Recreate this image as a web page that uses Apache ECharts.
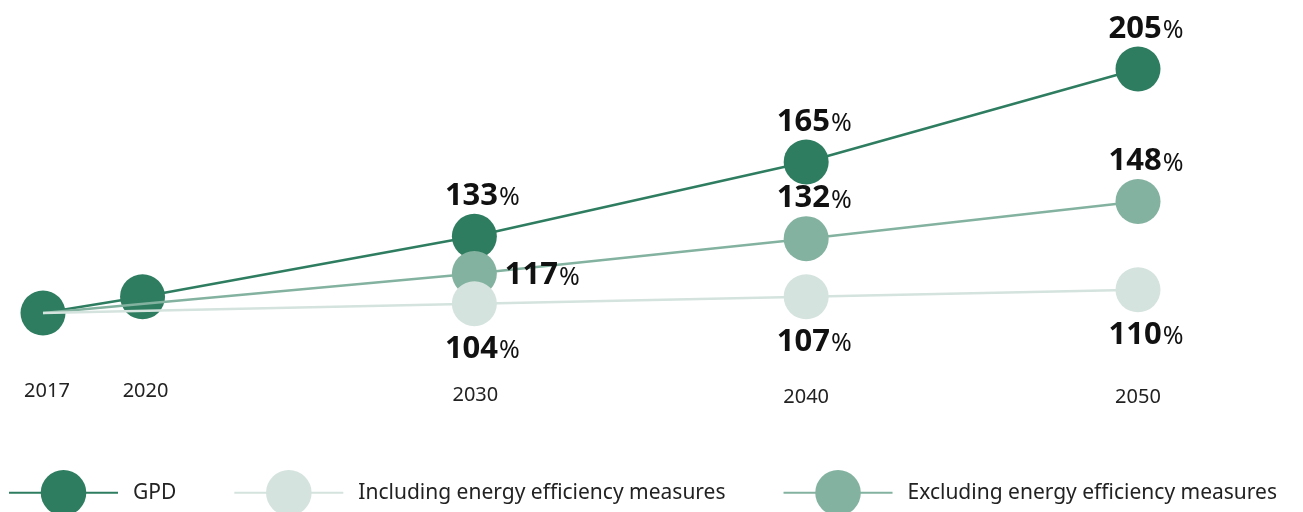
<!DOCTYPE html>
<html>
<head>
<meta charset="utf-8">
<script src="https://cdn.jsdelivr.net/npm/echarts@6/dist/echarts.min.js"></script>
<style>html,body{margin:0;padding:0;background:#fff;}#c{width:1303px;height:512px;}</style>
</head>
<body>
<div id="c"></div>
<script>
const years = [2017, 2020, 2030, 2040, 2050];
const yearLabels = ['2017', '2020', '2030', '2040', '2050'];
const seriesNames = ['GPD', 'Including energy efficiency measures', 'Excluding energy efficiency measures'];
const gdp = [100, 107, 133, 165, 205];
const including = [100, null, 104, 107, 110];
const excluding = [100, null, 117, 132, 148];

const colors = { gdp: '#2E7D61', inc: '#D4E3DD', exc: '#83B2A0' };
const FONT = '"Noto Sans", sans-serif';

function labelFormatter(p) {
  return '{n|' + p.value[1] + '}{p|%}';
}
const labelRich = {
  n: { fontSize: 31, fontWeight: 'bold', color: '#111', fontFamily: FONT },
  p: { fontSize: 25, color: '#111', fontFamily: FONT, padding: [4, 0, 0, 1] }
};

function labelCfg(pos) {
  if (pos === 'top') return { show: true, position: 'top', distance: 2, offset: [8, 0] };
  if (pos === 'bottom') return { show: true, position: 'bottom', distance: 7, offset: [8, 0] };
  return { show: true, position: 'right', distance: 8, offset: [0, 2] };
}

function buildData(vals, posFn, hideFirst) {
  const out = [];
  years.forEach((y, i) => {
    if (vals[i] == null) return;
    const item = { value: [y, vals[i]] };
    item.label = y >= 2030 ? labelCfg(posFn(y)) : { show: false };
    if (hideFirst && i === 0) item.symbol = 'none';
    out.push(item);
  });
  return out;
}

const yearPad = [0, 0, 4, 6, 6];
const yearStyle = (i, left) => ({ fontSize: 20, color: '#222', fontFamily: FONT, padding: [yearPad[i], 0, 0, left] });

const chart = echarts.init(document.getElementById('c'));
chart.setOption({
  animation: false,
  backgroundColor: '#fff',
  grid: { left: 43, right: 165, top: 69, bottom: 199, containLabel: false },
  xAxis: {
    type: 'value', min: 2017, max: 2050,
    axisLine: { show: false }, axisTick: { show: false }, splitLine: { show: false },
    axisLabel: {
      customValues: years,
      margin: 68,
      formatter: function (v) {
        const i = years.indexOf(v);
        return '{y' + i + '|' + yearLabels[i] + '}';
      },
      rich: {
        y0: yearStyle(0, 8),
        y1: yearStyle(1, 6),
        y2: yearStyle(2, 2),
        y3: yearStyle(3, 0),
        y4: yearStyle(4, 0)
      }
    }
  },
  yAxis: { type: 'value', min: 100, max: 205, show: false },
  legend: {
    data: [seriesNames[0], seriesNames[1], seriesNames[2]],
    left: 8, top: 464, padding: [6, 0, 0, 0],
    itemWidth: 109, itemHeight: 57, itemGap: 57,
    textStyle: { fontSize: 21, color: '#222', fontFamily: FONT, padding: [0, 0, 0, 10] }
  },
  series: [
    {
      name: seriesNames[0], type: 'line', clip: false, z: 2,
      symbol: 'circle', symbolSize: 45,
      itemStyle: { color: colors.gdp },
      lineStyle: { color: colors.gdp, width: 2.5 },
      label: { formatter: labelFormatter, rich: labelRich },
      data: buildData(gdp, () => 'top', false)
    },
    {
      name: seriesNames[2], type: 'line', clip: false, z: 3,
      symbol: 'circle', symbolSize: 45, connectNulls: true,
      itemStyle: { color: colors.exc },
      lineStyle: { color: colors.exc, width: 2.5 },
      label: { formatter: labelFormatter, rich: labelRich },
      data: buildData(excluding, (y) => (y === 2030 ? 'right' : 'top'), true)
    },
    {
      name: seriesNames[1], type: 'line', clip: false, z: 4,
      symbol: 'circle', symbolSize: 45, connectNulls: true,
      itemStyle: { color: colors.inc },
      lineStyle: { color: colors.inc, width: 2.5 },
      label: { formatter: labelFormatter, rich: labelRich },
      data: buildData(including, () => 'bottom', true)
    }
  ]
});
</script>
</body>
</html>
